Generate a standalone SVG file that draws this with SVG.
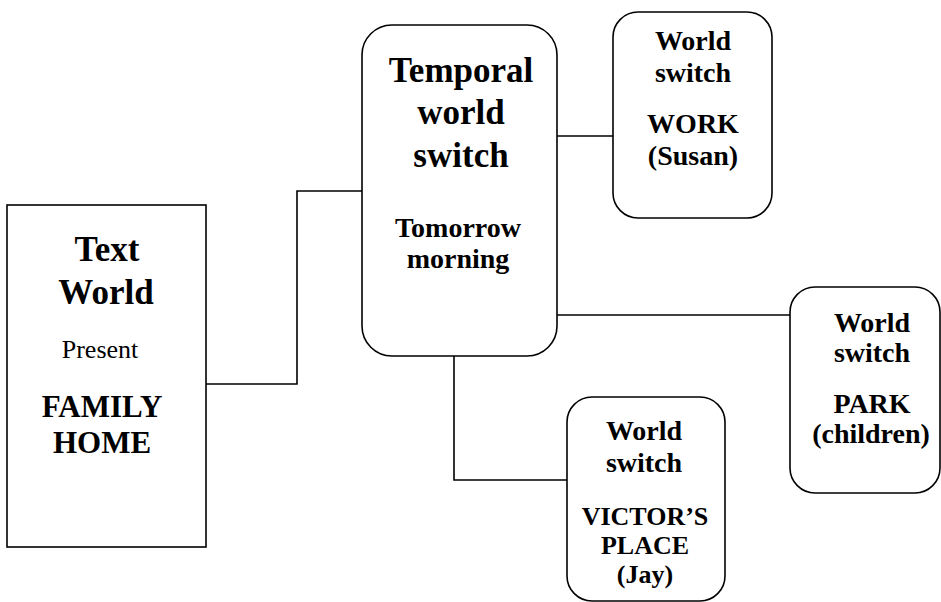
<svg xmlns="http://www.w3.org/2000/svg" width="941" height="602" viewBox="0 0 941 602">
<style>
.box{fill:#fff;stroke:#000;stroke-width:1.6}
.ln{fill:none;stroke:#000;stroke-width:1.6}
text{font-family:"Liberation Serif","Times New Roman",serif;fill:#000;text-anchor:middle}
.b{font-weight:bold}
.big{font-size:35px}
.mid{font-size:31px}
.sm{font-size:28px}
.xs{font-size:26px}
.reg{font-size:26px}
</style>
<rect width="941" height="602" fill="#fff"/>
<g id="connectors">
<polyline class="ln" points="203,384 297,384 297,191 362,191"/>
<line class="ln" x1="557" y1="136" x2="613" y2="136"/>
<line class="ln" x1="557" y1="315" x2="790" y2="315"/>
<polyline class="ln" points="454,356 454,480 567,480"/>
</g>
<g id="text-world">
<rect class="box" x="7" y="205" width="199" height="342"/>
<text class="b big" x="107" y="261">Text</text>
<text class="b big" x="106" y="304">World</text>
<text class="reg" x="100" y="358">Present</text>
<text class="b mid" x="102" y="417">FAMILY</text>
<text class="b mid" x="102" y="453">HOME</text>
</g>
<g id="temporal">
<rect class="box" x="362" y="25" width="195" height="331" rx="30"/>
<text class="b big" x="461" y="82">Temporal</text>
<text class="b big" x="461" y="124">world</text>
<text class="b big" x="461" y="167">switch</text>
<text class="b sm" x="458" y="237">Tomorrow</text>
<text class="b sm" x="458" y="268">morning</text>
</g>
<g id="work">
<rect class="box" x="613" y="12" width="159" height="206" rx="25"/>
<text class="b sm" x="693" y="50">World</text>
<text class="b sm" x="693" y="82">switch</text>
<text class="b sm" x="693" y="133">WORK</text>
<text class="b sm" x="693" y="165">(Susan)</text>
</g>
<g id="park">
<rect class="box" x="790" y="287" width="150" height="206" rx="25"/>
<text class="b sm" x="872" y="332">World</text>
<text class="b sm" x="872" y="362">switch</text>
<text class="b sm" x="872" y="413">PARK</text>
<text class="b sm" x="871" y="443">(children)</text>
</g>
<g id="victor">
<rect class="box" x="567" y="397" width="158" height="204" rx="25"/>
<text class="b sm" x="644" y="440">World</text>
<text class="b sm" x="644" y="472">switch</text>
<text class="b xs" x="645" y="525">VICTOR’S</text>
<text class="b xs" x="645" y="554">PLACE</text>
<text class="b xs" x="645" y="583">(Jay)</text>
</g>
</svg>
